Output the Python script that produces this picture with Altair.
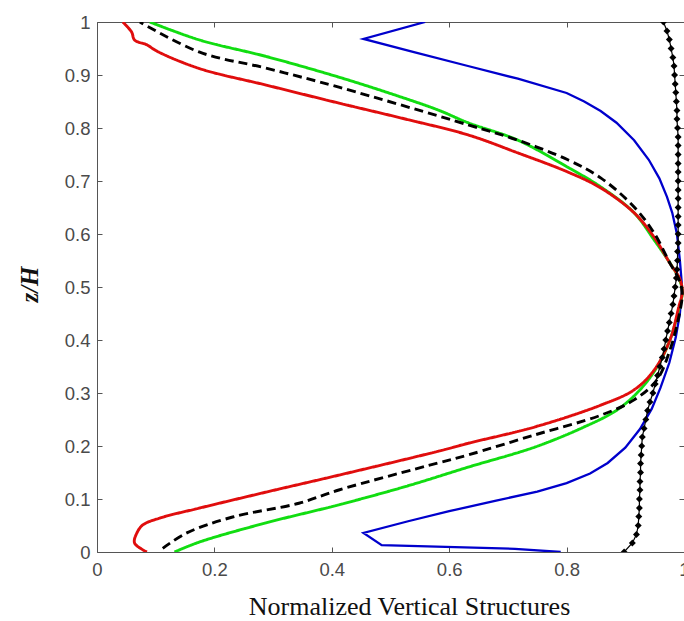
import altair as alt
import pandas as pd

# ---- data ----
red_x = [0.085, 0.064, 0.068, 0.078, 0.107, 0.175, 0.288, 0.412, 0.581, 0.632, 0.746, 0.858, 0.915, 0.949, 0.976, 0.991, 0.997,
         0.993, 0.976, 0.949, 0.915, 0.858, 0.802, 0.717, 0.632, 0.525, 0.412, 0.288, 0.175, 0.102, 0.085, 0.064, 0.059, 0.044]
red_z = [0.0, 0.017, 0.036, 0.051, 0.064, 0.083, 0.113, 0.145, 0.19, 0.205, 0.236, 0.277, 0.306, 0.343, 0.4, 0.462, 0.49,
         0.515, 0.545, 0.594, 0.64, 0.687, 0.717, 0.753, 0.787, 0.817, 0.847, 0.881, 0.912, 0.945, 0.957, 0.966, 0.981, 1.0]

green_x = [0.132, 0.175, 0.288, 0.412, 0.53, 0.632, 0.746, 0.83, 0.886, 0.925, 0.954, 0.976, 0.991, 0.997,
           0.992, 0.978, 0.949, 0.915, 0.858, 0.802, 0.717, 0.632, 0.581, 0.5, 0.412, 0.288, 0.175, 0.09]
green_z = [0.0, 0.019, 0.055, 0.089, 0.125, 0.16, 0.198, 0.236, 0.268, 0.306, 0.349, 0.4, 0.457, 0.49,
           0.515, 0.542, 0.589, 0.64, 0.689, 0.726, 0.777, 0.81, 0.834, 0.865, 0.896, 0.935, 0.966, 1.0]

mean_x = [0.112, 0.153, 0.231, 0.344, 0.412, 0.581, 0.632, 0.746, 0.858, 0.915, 0.954, 0.976, 0.991, 0.997,
          0.991, 0.976, 0.949, 0.915, 0.858, 0.802, 0.717, 0.632, 0.412, 0.288, 0.175, 0.073]
mean_z = [0.007, 0.036, 0.066, 0.092, 0.117, 0.168, 0.183, 0.221, 0.258, 0.287, 0.325, 0.381, 0.443, 0.49,
          0.515, 0.545, 0.602, 0.651, 0.706, 0.74, 0.777, 0.806, 0.877, 0.913, 0.943, 1.0]

blue_x = [0.79, 0.712, 0.485, 0.454, 0.53, 0.6, 0.68, 0.75, 0.80, 0.84, 0.87, 0.9, 0.925, 0.945, 0.96, 0.975, 0.986,
          0.993, 0.996, 0.996, 0.993, 0.988, 0.98, 0.971, 0.958, 0.94, 0.915, 0.885, 0.858, 0.83, 0.8, 0.717, 0.632,
          0.54, 0.454, 0.559]
blue_z = [0.0, 0.006, 0.013, 0.036, 0.058, 0.077, 0.097, 0.114, 0.13, 0.148, 0.168, 0.197, 0.232, 0.27, 0.31, 0.357,
          0.405, 0.45, 0.49, 0.51, 0.55, 0.6, 0.64, 0.67, 0.705, 0.74, 0.777, 0.81, 0.832, 0.85, 0.866, 0.893, 0.917,
          0.943, 0.968, 1.0]

dot_x = [0.898, 0.912, 0.919, 0.922, 0.923, 0.924, 0.924, 0.925, 0.925, 0.926, 0.926, 0.927, 0.928, 0.929, 0.932,
         0.935, 0.938, 0.942, 0.947, 0.951, 0.955, 0.959, 0.963, 0.966, 0.969, 0.972, 0.975, 0.978, 0.981, 0.983,
         0.985, 0.987, 0.988, 0.989, 0.989, 0.990, 0.990, 0.990, 0.990, 0.990, 0.990, 0.990, 0.990, 0.990, 0.990,
         0.990, 0.990, 0.990, 0.989, 0.988, 0.988, 0.987, 0.986, 0.985, 0.984, 0.983, 0.981, 0.978, 0.975, 0.971, 0.965]
dot_z = [0.0, 0.017, 0.033, 0.05, 0.067, 0.083, 0.1, 0.117, 0.133, 0.15, 0.167, 0.183, 0.2, 0.217, 0.233,
         0.25, 0.267, 0.283, 0.3, 0.317, 0.333, 0.35, 0.367, 0.383, 0.4, 0.417, 0.433, 0.45, 0.467, 0.483,
         0.5, 0.517, 0.533, 0.55, 0.567, 0.583, 0.6, 0.617, 0.633, 0.65, 0.667, 0.683, 0.7, 0.717, 0.733,
         0.75, 0.767, 0.783, 0.8, 0.817, 0.833, 0.85, 0.867, 0.883, 0.9, 0.917, 0.933, 0.95, 0.967, 0.983, 1.0]

x_ticks = [0, 0.2, 0.4, 0.6, 0.8, 1]
y_ticks = [0, 0.1, 0.2, 0.3, 0.4, 0.5, 0.6, 0.7, 0.8, 0.9, 1]

series_names = ["Green", "Red", "Mean"]
series_colors = ["#11dd11", "#e00d0d", "#000000"]
series_dash = [[1, 0], [1, 0], [9, 5]]
series_width = [2.9, 2.9, 2.6]

rows = []
for name, xs, zs in [("Green", green_x, green_z), ("Red", red_x, red_z), ("Mean", mean_x, mean_z)]:
    for i, (xv, zv) in enumerate(zip(xs, zs)):
        rows.append({"series": name, "x": xv, "z": zv, "order": i})
df = pd.DataFrame(rows)
blue_df = pd.DataFrame({"x": blue_x, "z": blue_z, "order": list(range(len(blue_x)))})
dot_df = pd.DataFrame({"x": dot_x, "z": dot_z, "order": list(range(len(dot_x)))})

W, H = 587, 530
xscale = alt.Scale(domain=[0, 1], nice=False, zero=False)
yscale = alt.Scale(domain=[0, 1], nice=False, zero=False)

common_axis = dict(grid=False, domain=False, tickSize=5, offset=-5, tickColor="#555",
                   labelFont="Liberation Sans", labelFontSize=18.5, labelColor="#4a4a4a",
                   labelFlush=False, labelOverlap=False, labelBound=False, format="~g")

blue = alt.Chart(blue_df).mark_line(clip=True, color="#0000cc", strokeWidth=2.3).encode(
    x=alt.X("x:Q", scale=xscale,
            axis=alt.Axis(values=x_ticks, title="Normalized Vertical Structures",
                          titleFont="Liberation Serif", titleFontSize=26, titleFontWeight="normal",
                          titleColor="#111", titlePadding=15, titleX=312, labelPadding=8, **common_axis)),
    y=alt.Y("z:Q", scale=yscale,
            axis=alt.Axis(values=y_ticks, title="z/H", titleFont="Liberation Serif", titleFontSize=25,
                          titleFontWeight="bold", titleFontStyle="italic", titleColor="#111",
                          titlePadding=22, titleY=262, labelPadding=7, **common_axis)),
    order="order:Q",
)

lines = alt.Chart(df).mark_line(clip=True, interpolate="catmull-rom").encode(
    x=alt.X("x:Q", scale=xscale, axis=None),
    y=alt.Y("z:Q", scale=yscale, axis=None),
    order="order:Q",
    color=alt.Color("series:N", scale=alt.Scale(domain=series_names, range=series_colors), legend=None),
    strokeDash=alt.StrokeDash("series:N", scale=alt.Scale(domain=series_names, range=series_dash), legend=None),
    strokeWidth=alt.StrokeWidth("series:N", scale=alt.Scale(domain=series_names, range=series_width), legend=None),
)

dot_line = alt.Chart(dot_df).mark_line(color="black", strokeWidth=1.2, clip=True).encode(
    x=alt.X("x:Q", scale=xscale, axis=None),
    y=alt.Y("z:Q", scale=yscale, axis=None),
    order="order:Q",
)
dot_pts = alt.Chart(dot_df).mark_point(shape="diamond", filled=True, color="black", size=48,
                                       opacity=1, clip=True).encode(
    x=alt.X("x:Q", scale=xscale, axis=None),
    y=alt.Y("z:Q", scale=yscale, axis=None),
)

mirror = alt.Chart(dot_df).mark_point(opacity=0).encode(
    x=alt.X("x:Q", scale=xscale,
            axis=alt.Axis(orient="top", values=x_ticks, labels=False, title=None, grid=False,
                          domain=False, tickSize=5, offset=-5, tickColor="#555")),
    y=alt.Y("z:Q", scale=yscale,
            axis=alt.Axis(orient="right", values=y_ticks, labels=False, title=None, grid=False,
                          domain=False, tickSize=5, offset=-5, tickColor="#555")),
)

chart = alt.layer(blue, lines, dot_line, dot_pts, mirror).resolve_axis(
    x="independent", y="independent"
).properties(
    width=W, height=H,
    autosize=alt.AutoSizeParams(type="none"),
    padding={"left": 97, "top": 22, "right": 0, "bottom": 69},
    background="white",
).configure_view(stroke="#555", strokeWidth=1)

chart.save("out.html", embed_options={"renderer": "svg", "actions": False})
